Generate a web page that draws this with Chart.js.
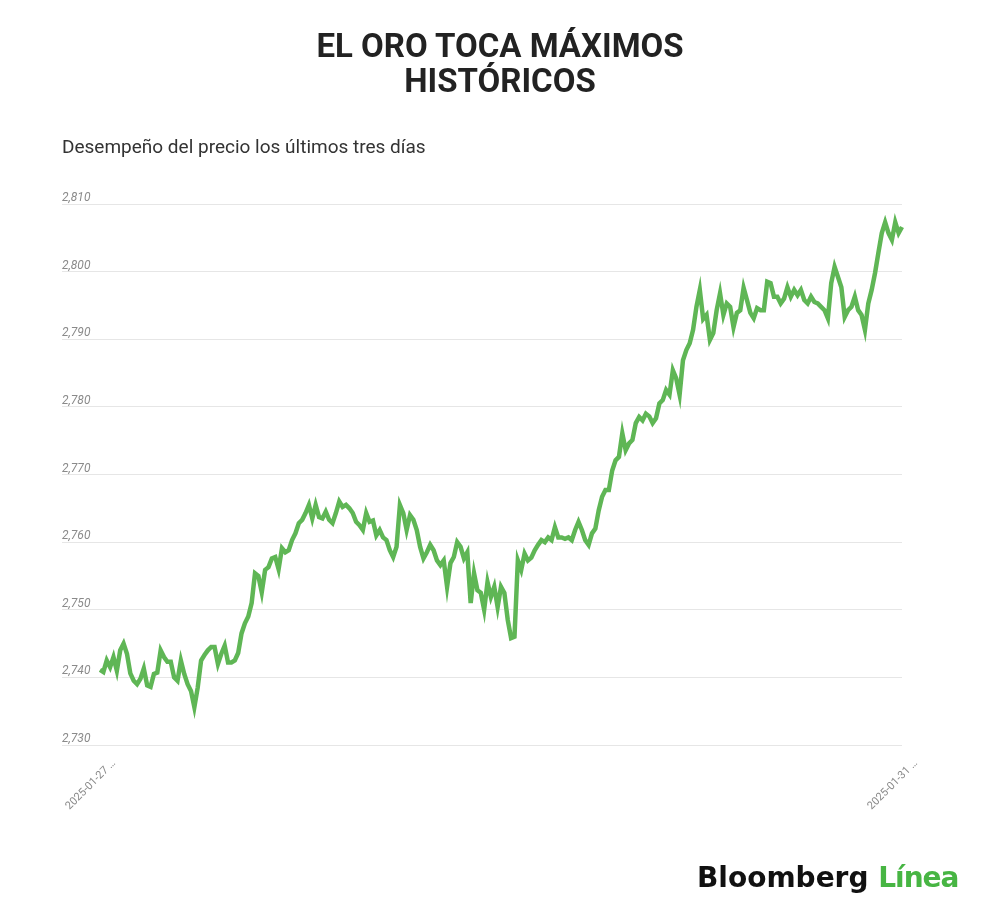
<!DOCTYPE html>
<html lang="es">
<head>
<meta charset="utf-8">
<title>El oro toca máximos históricos</title>
<script src="https://cdn.jsdelivr.net/npm/chart.js@4.4.1/dist/chart.umd.min.js"></script>
<style>
    html, body { margin: 0; padding: 0; background: #fff; }
    #page { position: relative; width: 1000px; height: 920px; overflow: hidden; font-family: Roboto, "Noto Sans", sans-serif; }
    #title { position: absolute; top: 28px; left: 0; width: 1000px; text-align: center; font-weight: 700; font-size: 33px; line-height: 35px; color: #222; }
    #subtitle { position: absolute; top: 135px; left: 62px; font-size: 19px; color: #333; }
    #chart-box { position: absolute; left: 0; top: 0; width: 1000px; height: 920px; }
    #logo { position: absolute; left: 697px; top: 861px; font-family: "DejaVu Sans", sans-serif; font-weight: 700; font-size: 28px; color: #111; white-space: nowrap; }
    #logo span { color: #47b543; letter-spacing: -1px; }
</style>
</head>
<body>
<div id="page">
    <div id="chart-box"><canvas id="goldChart" width="1000" height="920"></canvas></div>
    <div id="title">EL ORO TOCA MÁXIMOS<br>HISTÓRICOS</div>
    <div id="subtitle">Desempeño del precio los últimos tres días</div>
    <div id="logo">Bloomberg <span>Línea</span></div>
</div>
<script>
// precio del oro (USD/oz), lecturas a intervalos regulares
const prices = [
    2741.1, 2740.8, 2742.5, 2741.5, 2743.0, 2741.0, 2744.0, 2745.0, 2743.5, 2740.6,
    2739.5, 2739.0, 2739.8, 2741.3, 2738.8, 2738.6, 2740.5, 2740.7, 2744.0, 2743.0,
    2742.3, 2742.3, 2740.0, 2739.5, 2742.5, 2740.5, 2739.0, 2738.0, 2735.6, 2738.5,
    2742.5, 2743.3, 2744.0, 2744.5, 2744.5, 2742.0, 2743.5, 2744.7, 2742.2, 2742.2,
    2742.5, 2743.6, 2746.5, 2748.0, 2749.0, 2751.0, 2755.4, 2755.0, 2752.6, 2755.9,
    2756.3, 2757.6, 2757.8, 2756.0, 2759.1, 2758.5, 2758.8, 2760.3, 2761.3, 2762.8,
    2763.3, 2764.3, 2765.5, 2763.5, 2765.5, 2763.7, 2763.5, 2764.5, 2763.3, 2762.8,
    2764.3, 2766.0, 2765.2, 2765.5, 2765.0, 2764.3, 2763.0, 2762.5, 2761.8, 2764.3,
    2763.0, 2763.2, 2761.0, 2761.8, 2760.7, 2760.3, 2758.8, 2757.8, 2759.3, 2765.5,
    2764.3, 2761.8, 2764.0, 2763.3, 2761.8, 2759.3, 2757.6, 2758.5, 2759.6, 2758.8,
    2757.3, 2756.6, 2757.3, 2753.4, 2756.9, 2757.8, 2760.0, 2759.3, 2757.6, 2758.5,
    2751.0, 2755.4, 2752.9, 2752.5, 2750.0, 2754.1, 2751.9, 2753.4, 2750.4, 2753.4,
    2752.5, 2748.5, 2745.8, 2746.0, 2757.3, 2755.9, 2758.3, 2757.3, 2757.7, 2758.8,
    2759.6, 2760.3, 2760.0, 2760.7, 2760.3, 2762.2, 2760.7, 2760.7, 2760.5, 2760.7,
    2760.3, 2761.8, 2763.0, 2761.8, 2760.3, 2759.6, 2761.3, 2762.0, 2764.7, 2766.7,
    2767.7, 2767.7, 2770.6, 2772.1, 2772.6, 2776.1, 2773.6, 2774.6, 2775.1, 2777.6,
    2778.5, 2778.0, 2779.0, 2778.6, 2777.6, 2778.3, 2780.5, 2781.0, 2782.5, 2781.8,
    2785.4, 2784.2, 2781.8, 2786.9, 2788.4, 2789.4, 2791.4, 2794.8, 2797.3, 2793.0,
    2793.6, 2789.9, 2790.9, 2794.3, 2796.8, 2793.6, 2795.3, 2794.8, 2791.8, 2793.9,
    2794.3, 2797.6, 2795.8, 2793.9, 2793.1, 2794.6, 2794.3, 2794.3, 2798.5, 2798.3,
    2796.3, 2796.3, 2795.3, 2796.0, 2797.7, 2796.3, 2797.3, 2796.5, 2797.3, 2795.8,
    2795.3, 2796.3, 2795.5, 2795.3, 2794.8, 2794.3, 2793.1, 2798.3, 2800.7, 2799.2,
    2797.7, 2793.3, 2794.3, 2794.8, 2796.3, 2794.3, 2793.6, 2791.4, 2795.3, 2797.3,
    2799.8, 2802.8, 2805.7, 2807.3, 2805.7, 2804.7, 2807.3, 2805.7, 2806.6
];

// eje x: solo se rotulan el primer y el último momento
const tickLabels = ['2025-01-27 …', '2025-01-31 …'];
const yTicks = [2730, 2740, 2750, 2760, 2770, 2780, 2790, 2800, 2810];

// marcas de tiempo para cada lectura, del 27 al 31 de enero
const startMs = Date.UTC(2025, 0, 27, 0, 0);
const endMs = Date.UTC(2025, 0, 31, 0, 0);
const times = prices.map(function(p, i) {
    const d = new Date(startMs + (endMs - startMs) * i / (prices.length - 1));
    return d.toISOString().slice(0, 16).replace('T', ' ');
});

const ctx = document.getElementById('goldChart');
new Chart(ctx, {
    type: 'line',
    data: {
        labels: times,
        datasets: [{
            label: 'Oro',
            data: prices,
            borderColor: '#5fb655',
            borderWidth: 4.5,
            pointRadius: 0,
            tension: 0,
            fill: false
        }]
    },
    options: {
        responsive: false,
        animation: false,
        layout: {
            padding: { left: 62, right: 98, top: 204, bottom: 100 }
        },
        plugins: {
            legend: { display: false },
            tooltip: { enabled: false }
        },
        scales: {
            x: {
                grid: { display: false, drawTicks: false },
                border: { display: false },
                afterFit: function(scale) { scale.height = 75; },
                ticks: {
                    autoSkip: false,
                    maxRotation: 45,
                    minRotation: 45,
                    padding: 12,
                    labelOffset: 14,
                    color: '#8a8a8a',
                    font: { family: 'Roboto', size: 11 },
                    callback: function(value, index) {
                        if (index === 0) return tickLabels[0];
                        if (index === prices.length - 1) return tickLabels[1];
                        return '';
                    }
                }
            },
            y: {
                min: yTicks[0],
                max: yTicks[yTicks.length - 1],
                afterFit: function(scale) { scale.width = 38; },
                afterBuildTicks: function(scale) {
                    scale.ticks = yTicks.map(function(v) { return { value: v }; });
                },
                grid: { color: '#e6e6e6', lineWidth: 1, tickLength: 38 },
                border: { display: false },
                ticks: {
                    align: 'end',
                    crossAlign: 'far',
                    padding: 0,
                    color: '#8a8a8a',
                    font: { family: 'Roboto', size: 12, style: 'italic' }
                }
            }
        }
    }
});
</script>
</body>
</html>
